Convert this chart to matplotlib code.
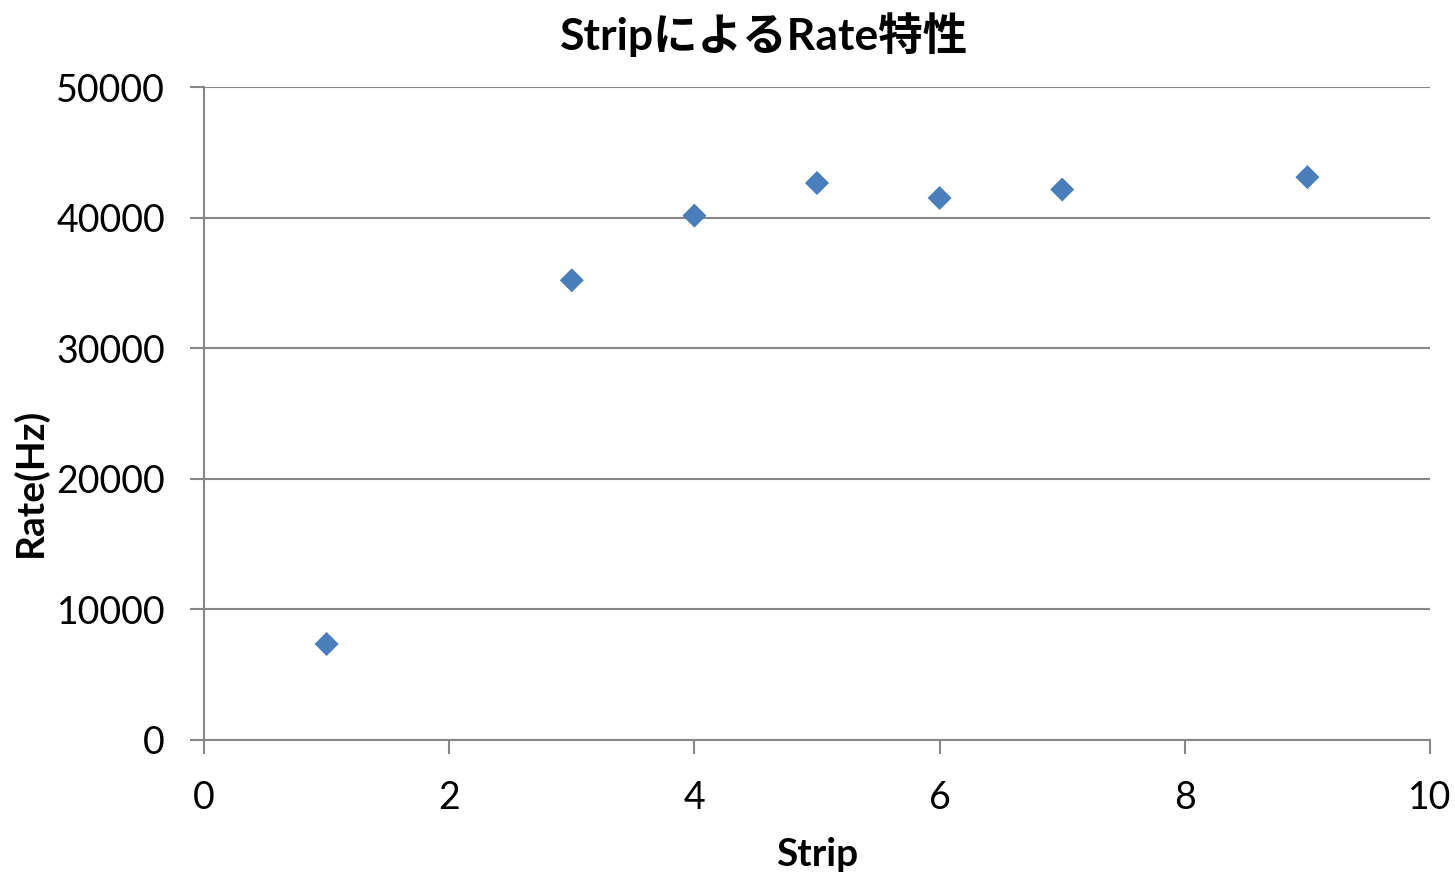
import matplotlib
matplotlib.use("Agg")
import matplotlib.pyplot as plt

strip = [1, 3, 4, 5, 6, 7, 9]
rate = [7350, 35200, 40150, 42650, 41500, 42150, 43100]
xticks = [0, 2, 4, 6, 8, 10]
yticks = [0, 10000, 20000, 30000, 40000, 50000]

plt.rcParams['font.family'] = ['Lato', 'Noto Sans CJK JP', 'DejaVu Sans']

fig = plt.figure(figsize=(14.55, 8.75), dpi=100)
ax = fig.add_axes([204/1455, 1-740/875, (1430-204)/1455, (740-87)/875])

ax.scatter(strip, rate, marker='D', s=150, color='#4A7EBB', edgecolors='none', zorder=3)

ax.set_xlim(0, 10)
ax.set_ylim(0, 50000)
ax.set_xticks(xticks)
ax.set_yticks(yticks)
ax.grid(axis='y', color='#878787', linewidth=1.5)
ax.set_axisbelow(True)

for side in ['top', 'right']:
    ax.spines[side].set_visible(False)
for side in ['left', 'bottom']:
    ax.spines[side].set_color('#878787')
    ax.spines[side].set_linewidth(1.5)

ax.tick_params(axis='both', direction='out', length=10, width=1.5, color='#878787',
               labelsize=27, labelcolor='black')
ax.tick_params(axis='y', pad=18)
ax.tick_params(axis='x', pad=19)

ax.set_xlabel('Strip', fontsize=28, fontweight='bold')
ax.xaxis.set_label_coords(0.5, -0.148)
ax.set_ylabel('Rate(Hz)', fontsize=28, fontweight='bold')
ax.yaxis.set_label_coords(-0.127, 0.395)

fig.text(764/1455, 1-35/875, 'StripによるRate特性', fontsize=32, fontweight='bold',
         ha='center', va='center')

fig.savefig('out.png', dpi=100)
